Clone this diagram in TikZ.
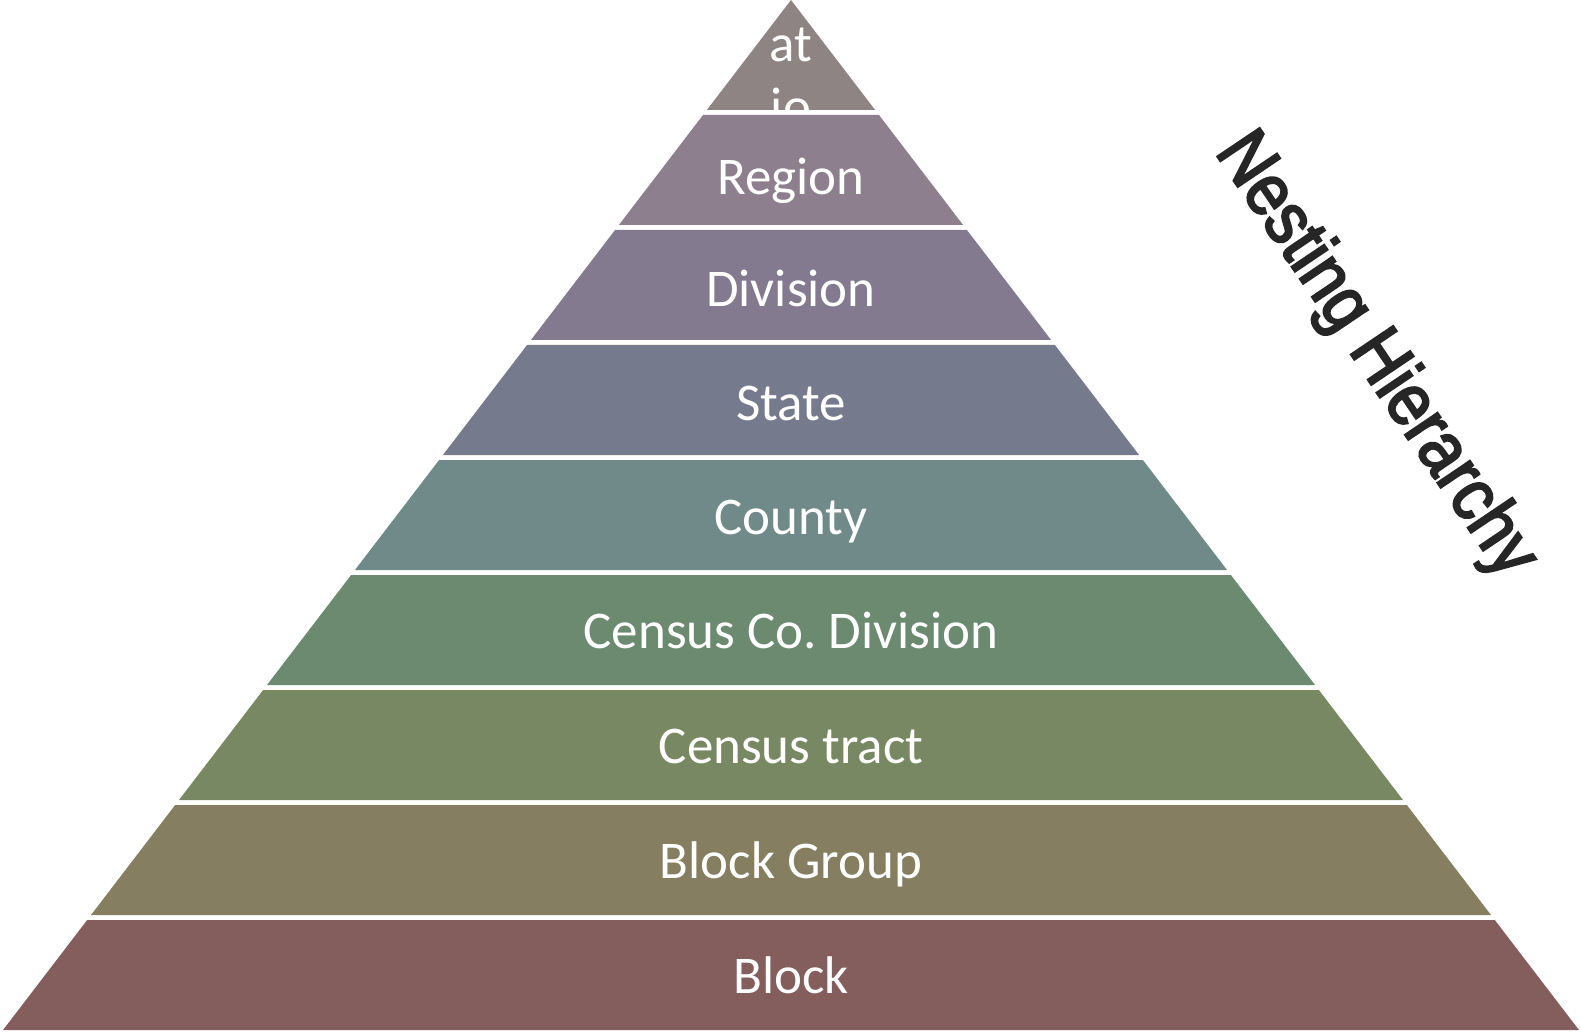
\documentclass[tikz,border=0pt]{standalone}
\usepackage{fontspec}
\setmainfont{Carlito}
\newfontfamily\titlefont[FakeBold=3,FakeStretch=0.88]{Liberation Sans}
\definecolor{cNation}{RGB}{142,132,131}
\definecolor{cRegion}{RGB}{142,127,142}
\definecolor{cDivision}{RGB}{131,122,143}
\definecolor{cState}{RGB}{117,123,140}
\definecolor{cCounty}{RGB}{111,138,136}
\definecolor{cCCD}{RGB}{107,138,112}
\definecolor{cTract}{RGB}{120,136,99}
\definecolor{cBG}{RGB}{133,126,97}
\definecolor{cBlock}{RGB}{132,94,93}
\definecolor{titlegray}{RGB}{38,38,38}
\tikzset{
  lbl/.style={text=white, font=\fontsize{53}{64}\selectfont, anchor=base, inner sep=0pt},
}
\frenchspacing
\begin{document}
\begin{tikzpicture}[x=1pt,y=-1pt]
\useasboundingbox (0,0) rectangle (1580,1032);
\def\cx{791}
\def\sl{0.765}
% layers: index, color, label, baseline offset
\foreach \i/\c/\t/\o in {1/cRegion/Region/25,2/cDivision/Division/22,3/cState/State/20,4/cCounty/County/19,5/cCCD/Census Co. Division/18,6/cTract/Census tract/18,7/cBG/Block Group/18,8/cBlock/Block/18}{
  \pgfmathsetmacro{\yt}{115*\i}
  \pgfmathsetmacro{\yb}{(\i==8 ? 1030 : 115*\i+110)}
  \pgfmathsetmacro{\wt}{\sl*\yt}
  \pgfmathsetmacro{\wb}{\sl*\yb}
  \fill[\c] (\cx-\wt,\yt) -- (\cx+\wt,\yt) -- (\cx+\wb,\yb) -- (\cx-\wb,\yb) -- cycle;
  \pgfmathsetmacro{\ym}{115*\i+55+\o}
  \node[lbl] (L\i) at (\cx,\ym) {\t};
}
% top triangle with clipped label
\fill[cNation] (\cx,0) -- (\cx+\sl*110,110) -- (\cx-\sl*110,110) -- cycle;
\begin{scope}
  \clip (\cx,0) -- (\cx+\sl*110,110) -- (\cx-\sl*110,110) -- cycle;
  \node[lbl] (L0a) at (\cx,62) {at};
  \node[lbl] (L0b) at (\cx,125) {io};
\end{scope}
\node[font=\titlefont\fontsize{74}{78}\selectfont, text=titlegray, rotate=-56, inner sep=0pt] (title) at (1375,356) {Nesting Hierarchy};
\end{tikzpicture}
\end{document}
